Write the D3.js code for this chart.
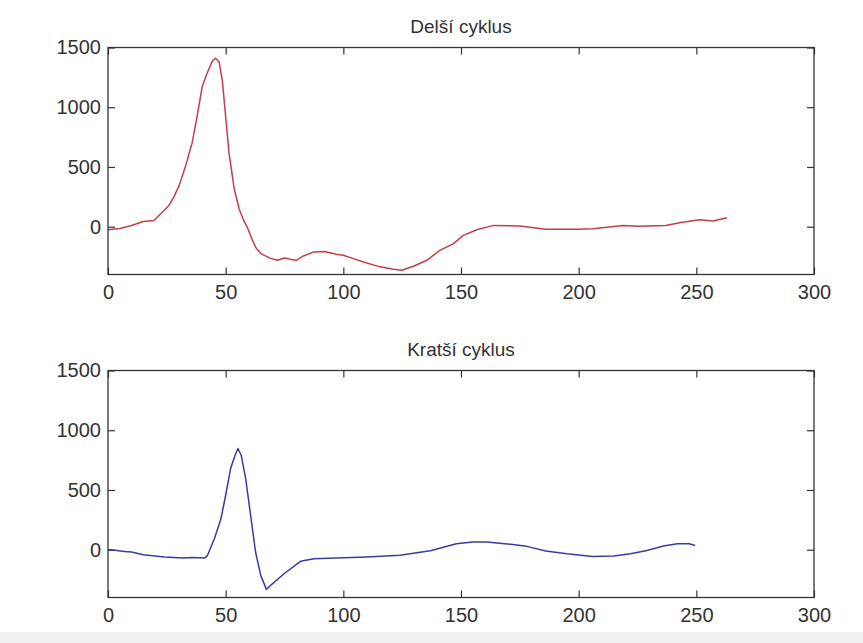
<!DOCTYPE html>
<html>
<head>
<meta charset="utf-8">
<script src="https://cdn.jsdelivr.net/npm/d3@7"></script>
<style>
  body { margin: 0; background: #fff; }
  text { font-family: "Liberation Sans", Arial, sans-serif; fill: #333; }
</style>
</head>
<body>
<script>
// data
let longX = [0, 5, 10, 15, 19.5, 22.5, 25.9, 28, 30.2, 33, 35.8, 37.9, 40.1, 42.2, 44.3, 45.7, 47.2, 48.6, 50, 51.4, 53.6, 55.7, 57.5, 59.2, 61.3, 63, 65, 69, 72, 75, 78, 80, 83, 87.5, 92, 97, 100, 104, 108.5, 115.6, 121.3, 124.8, 129.8, 135.5, 141, 146.8, 151, 156.7, 163.8, 175, 186, 200, 206, 219, 225, 237, 244, 251.5, 257, 263];
let longY = [-25, -15, 10, 44, 52, 110, 178, 250, 344, 511, 705, 927, 1178, 1289, 1386, 1410, 1380, 1220, 920, 620, 320, 150, 60, -5, -110, -180, -225, -265, -281, -262, -275, -281, -245, -211, -208, -231, -239, -265, -295, -336, -356, -364, -331, -281, -198, -142, -73, -25, 11, 5, -22, -22, -17, 11, 3, 11, 38, 58, 47, 75];

let shortX = [0, 3, 7, 10, 15, 24, 32, 36, 41, 42.3, 45.2, 48, 50, 52.1, 54, 55.2, 56.6, 58.5, 60.6, 62.7, 64.9, 67.3, 69.1, 74.8, 81.8, 87.5, 97, 110, 124, 137, 148, 155, 161, 171, 178, 186, 195, 206, 215, 222, 229, 236, 242, 247, 249.5];
let shortY = [0, -5, -14, -20, -42, -61, -70, -65, -70, -47, 92, 260, 456, 679, 791, 847, 791, 595, 288, -19, -215, -332, -298, -201, -97, -75, -70, -61, -47, -8, 50, 65, 65, 45, 28, -11, -34, -56, -53, -34, -6, 31, 50, 50, 36];

let titles = ["Delší cyklus", "Kratší cyklus"];
let xTicks = [0, 50, 100, 150, 200, 250, 300];
let yTicks = [0, 500, 1000, 1500];

let W = 863, H = 643;
let left = 108, right = 814, plotH = 227;
let tops = [47.5, 370.5];

let svg = d3.select("body").append("svg")
    .attr("width", W)
    .attr("height", H);

svg.append("rect").attr("width", W).attr("height", H).attr("fill", "#fff");
// grey strip at the very bottom of the figure window
svg.append("rect").attr("y", 632).attr("width", W).attr("height", H - 632).attr("fill", "#f0f0f0");

let x = d3.scaleLinear().domain([0, 300]).range([0, right - left]);
let y = d3.scaleLinear().domain([-400, 1500]).range([plotH, 0]);
let fmt = d3.format("d");

function panel(top, title, xs, ys, color) {
  let g = svg.append("g").attr("transform", "translate(" + left + "," + top + ")");
  let w = right - left;

  let pts = xs.map(function(d, i) { return [d, ys[i]]; });
  let line = d3.line()
      .x(function(d) { return x(d[0]); })
      .y(function(d) { return y(d[1]); });

  g.append("path")
      .datum(pts)
      .attr("fill", "none")
      .attr("stroke", color)
      .attr("stroke-width", 1.5)
      .attr("stroke-linejoin", "round")
      .attr("d", line);

  // matlab style: ticks inside on all four sides
  let ax = [
    {axis: d3.axisBottom(x).tickValues(xTicks).tickPadding(10), t: "translate(0," + plotH + ")", labels: true},
    {axis: d3.axisTop(x).tickValues(xTicks), t: "", labels: false},
    {axis: d3.axisLeft(y).tickValues(yTicks).tickPadding(7), t: "", labels: true},
    {axis: d3.axisRight(y).tickValues(yTicks), t: "translate(" + w + ",0)", labels: false}
  ];
  ax.forEach(function(a) {
    let ag = g.append("g").attr("transform", a.t)
        .call(a.axis.tickFormat(fmt).tickSizeInner(-7).tickSizeOuter(0));
    ag.select(".domain").remove();
    ag.selectAll("line").attr("stroke", "#333").attr("stroke-width", 1.2);
    if (a.labels) ag.selectAll("text").attr("font-size", 20).attr("fill", "#333")
        .attr("font-family", "Liberation Sans, Arial, sans-serif");
    else ag.selectAll("text").remove();
  });

  g.append("rect")
      .attr("width", w)
      .attr("height", plotH)
      .attr("fill", "none")
      .attr("stroke", "#333")
      .attr("stroke-width", 1.3);

  svg.append("text")
      .attr("x", left + w / 2)
      .attr("y", top - 15)
      .attr("text-anchor", "middle")
      .attr("font-size", 19)
      .text(title);
}

panel(tops[0], titles[0], longX, longY, "#c0404a");
panel(tops[1], titles[1], shortX, shortY, "#3c3ca0");
</script>
</body>
</html>
